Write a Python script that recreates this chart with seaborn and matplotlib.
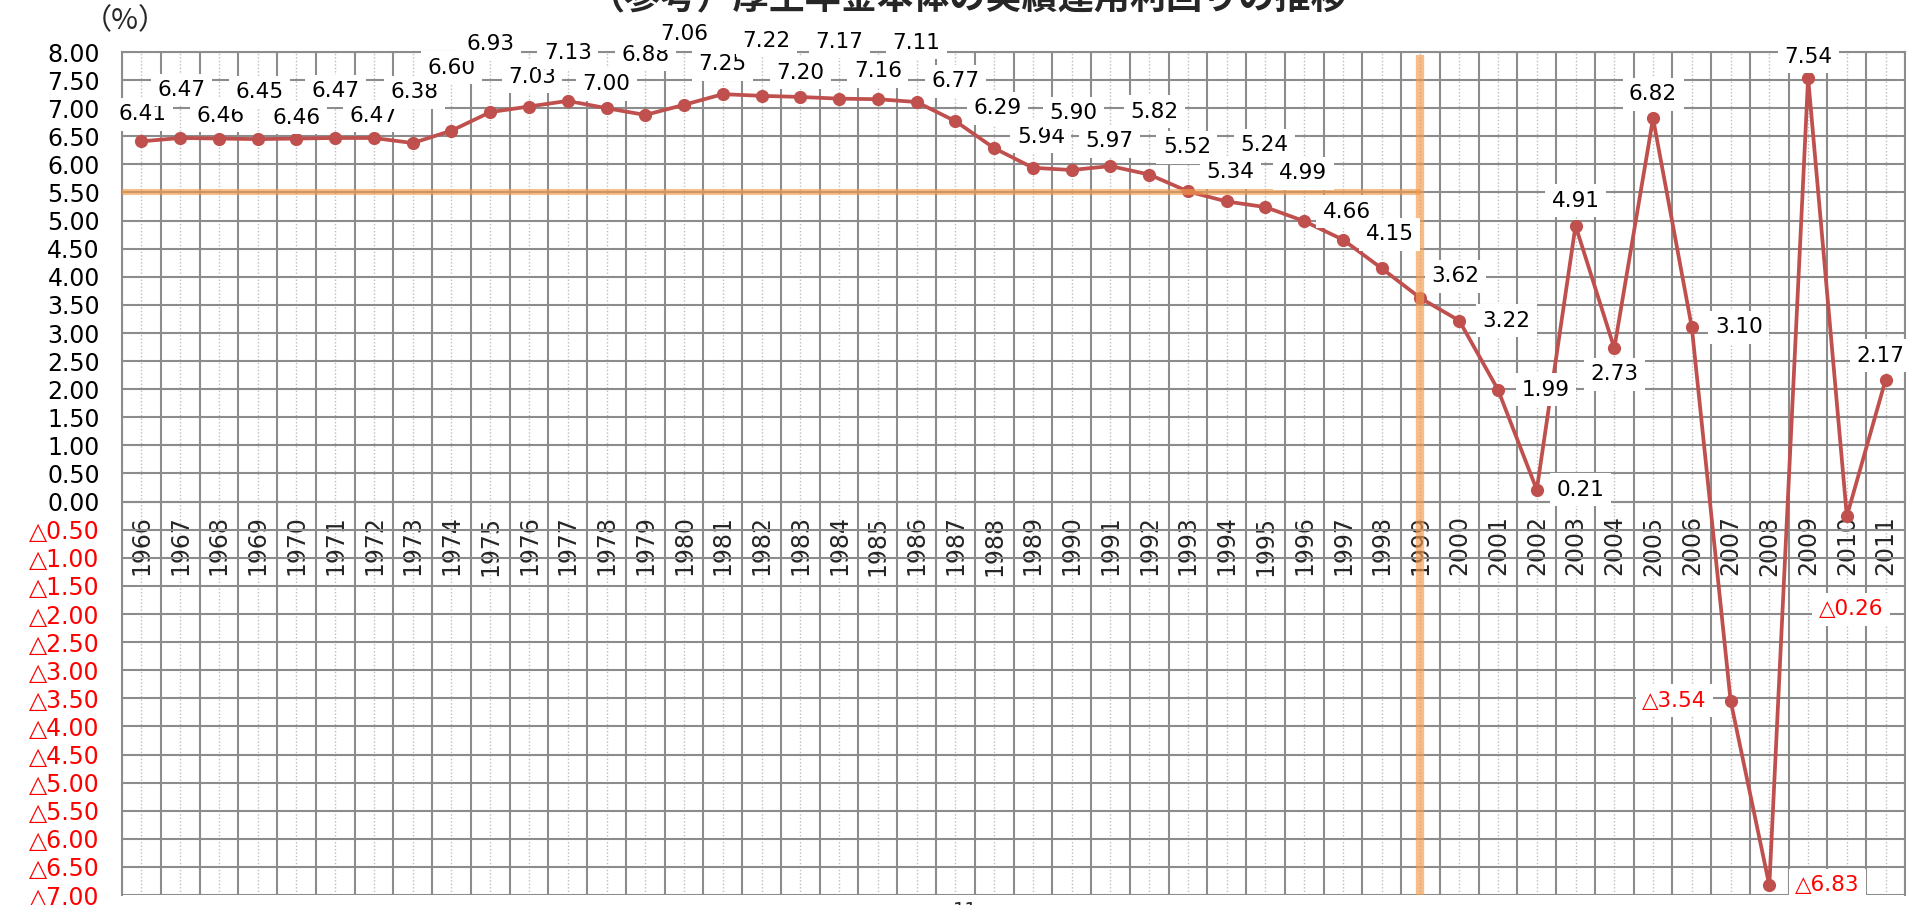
import matplotlib
matplotlib.use("Agg")
import matplotlib.pyplot as plt
import seaborn as sns
import numpy as np
import pandas as pd

# data (%), fiscal years 1966-2011
years = list(range(1966, 2012))
rates = [6.41, 6.47, 6.46, 6.45, 6.46, 6.47, 6.47, 6.38, 6.60, 6.93,
         7.03, 7.13, 7.00, 6.88, 7.06, 7.25, 7.22, 7.20, 7.17, 7.16,
         7.11, 6.77, 6.29, 5.94, 5.90, 5.97, 5.82, 5.52, 5.34, 5.24,
         4.99, 4.66, 4.15, 3.62, 3.22, 1.99, 0.21, 4.91, 2.73, 6.82,
         3.10, -3.54, -6.83, 7.54, -0.26, 2.17]
ref_rate = 5.50
ref_year = 1999
title = "（参考）厚生年金本体の実績運用利回りの推移"
unit = "（%）"
page_no = "11"

# where each value label sits relative to its point, in pixels (right, down)
label_offsets = [(1, -27), (1, -48), (2, -23), (2, -47), (0, -21), (0, -47),
                 (0, -22), (2, -51), (0, -63), (0, -68), (3, -30), (0, -48),
                 (0, -24), (0, -60), (0, -71), (0, -30), (5, -55), (0, -24),
                 (0, -57), (0, -28), (0, -59), (0, -40), (3, -40), (8, -31),
                 (2, -57), (-1, -25), (5, -63), (-1, -44), (4, -29), (-1, -62),
                 (-1, -48), (4, -28), (8, -34), (35, -22), (47, 0), (48, 0),
                 (44, 0), (0, -25), (0, 26), (0, -24), (47, 0), (-56, 0),
                 (58, 0), (0, -21), (4, 93), (-5, -24)]

DPI = 100
W, H = 1921, 905
LINE = "#C0504D"
GRID = "#8C8C8C"
DOTS = "#BDBDBD"
ORANGE = "#F29A4A"
NEG = "#FF0000"


def fmt(v):
    if v < 0:
        return "△" + f"{abs(v):.2f}"
    return f"{v:.2f}"


sns.set_style("white")
plt.rcParams["font.family"] = ["DejaVu Sans", "Noto Sans CJK JP"]

fig = plt.figure(figsize=(W / DPI, H / DPI), dpi=DPI)
ax = fig.add_axes([122 / W, 10 / H, (1905 - 122) / W, (895 - 52) / H])

x = np.arange(len(years))
df = pd.DataFrame({"x": x, "rate": rates})
sns.lineplot(data=df, x="x", y="rate", ax=ax, color=LINE, lw=2.7,
             marker="o", markersize=9.5, markeredgewidth=0, zorder=3)

ax.set_xlim(-0.5, len(years) - 0.5)
ax.set_ylim(-7, 8)
ax.set_xlabel("")
ax.set_ylabel("")

# years are written just under the zero line
ax.spines["bottom"].set_position(("data", 0))

# y axis: 0.50 steps, negatives written with a triangle in red
yt = np.arange(-7, 8.01, 0.5)
ax.set_yticks(yt)
ax.set_yticklabels([fmt(v) for v in yt])
for lab, v in zip(ax.get_yticklabels(), yt):
    lab.set_color(NEG if v < 0 else "black")
ax.tick_params(axis="y", length=0, pad=16, labelsize=17)

ax.set_xticks(x)
ax.set_xticklabels([str(y) for y in years])
ax.set_xticks(np.arange(-0.5, len(years), 1), minor=True)
ax.tick_params(axis="x", which="both", length=0, pad=10, labelsize=17,
               labelrotation=90)

ax.grid(axis="y", which="major", color=GRID, lw=1.5)
ax.grid(axis="x", which="minor", color=GRID, lw=1.5)
ax.grid(axis="x", which="major", color=DOTS, lw=1.0, ls=(0, (1, 1.5)))
ax.set_axisbelow(True)
for s in ax.spines.values():
    s.set_color(GRID)
    s.set_linewidth(1.5)

# 5.5% reference and 1999 marker lines
iy = years.index(ref_year)
ax.plot([-0.5, iy], [ref_rate, ref_rate], color=ORANGE, lw=4.3, alpha=0.65,
        zorder=4, solid_capstyle="butt")
ax.plot([iy, iy], [-7, 7.95], color=ORANGE, lw=6, alpha=0.65,
        zorder=4, solid_capstyle="butt")

for i, (v, (dx, dy)) in enumerate(zip(rates, label_offsets)):
    ax.annotate(fmt(v), xy=(i, v), xytext=(dx * 72 / DPI, -dy * 72 / DPI),
                textcoords="offset points", ha="center", va="center",
                fontsize=15.5, color=NEG if v < 0 else "black", zorder=5,
                bbox=dict(boxstyle="square,pad=0.3", fc="white", ec="none"))

fig.text(967 / W, 1 - 8 / H, title, ha="center", va="baseline", fontsize=26,
         fontweight="bold", family=["Noto Sans CJK JP"])
fig.text(125 / W, 1 - 21 / H, unit, ha="center", va="center", fontsize=21,
         family=["Noto Sans CJK JP"])
fig.text(965 / W, 1 - 901 / H, page_no, ha="center", va="top", fontsize=14)

fig.savefig("out.png", dpi=DPI)
